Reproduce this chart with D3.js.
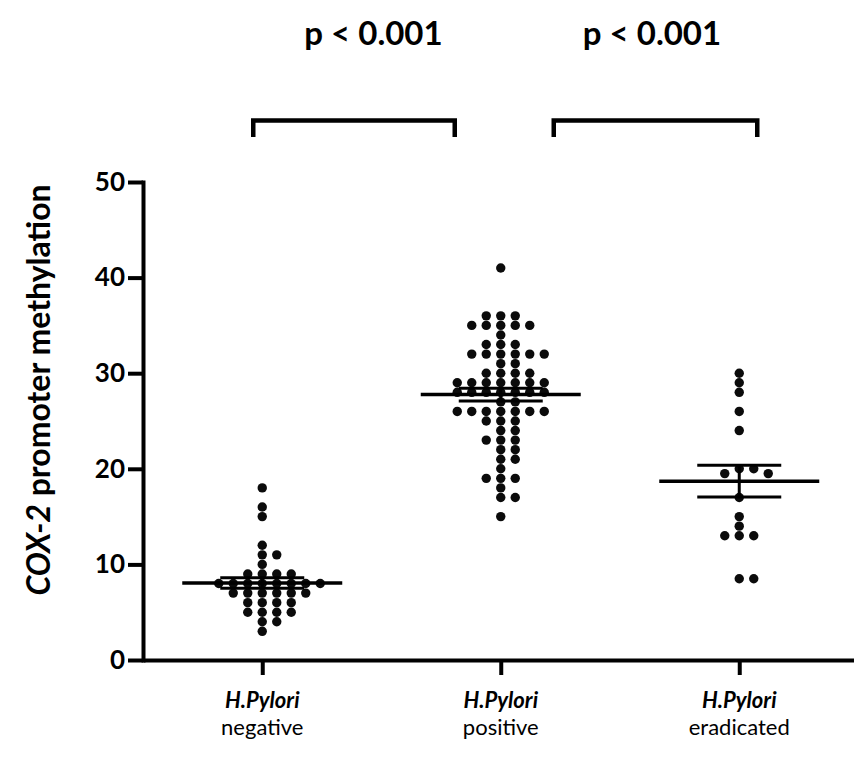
<!DOCTYPE html>
<html><head><meta charset="utf-8">
<script src="https://cdn.jsdelivr.net/npm/d3@7"></script>
<style>body{margin:0;background:#fff} svg{display:block}</style>
</head><body><svg id="chart" width="854" height="760"></svg>
<script>
// ---------------- data ----------------
const categories = ["negative", "positive", "eradicated"];
const categoryPrefix = "H.Pylori";
const yTicks = [0, 10, 20, 30, 40, 50];
const negativeValues = [18, 16, 15, 12, 11, 11, 10, 9, 9, 9, 9, 8, 8, 8, 8, 8, 8, 8, 8,
  7, 7, 7, 7, 7, 7, 6, 6, 6, 6, 5, 5, 5, 5, 4, 4, 3];
const positiveValues = [41, 36, 36, 36, 35, 35, 35, 35, 35, 34, 33, 33, 33,
  32, 32, 32, 32, 32, 32, 31, 31, 30, 30, 30, 30, 29, 29, 29, 29, 29, 29, 29,
  28, 28, 28, 28, 28, 28, 28, 27, 27, 26, 26, 26, 26, 26, 26, 26, 25, 25, 25,
  24, 24, 23, 23, 23, 22, 22, 21, 21, 20, 19, 19, 19, 18, 17, 17, 15];
const eradicatedValues = [30, 29, 28, 26, 24, 20, 20, 19.5, 19.5, 17, 15, 14, 13, 13, 13, 8.5, 8.5];
const comparisons = [["negative", "positive"], ["positive", "eradicated"]];
const pLabels = ["p < 0.001", "p < 0.001"];
const yTitleItalic = "COX-2";
const yTitleRest = " promoter methylation";

// ---------------- chart ----------------
const FONT = "Lato, 'Open Sans', 'DejaVu Sans', sans-serif";
const svg = d3.select("#chart");
const y = d3.scaleLinear().domain([0, 50]).range([660, 182]);
const x = d3.scalePoint().domain(categories).range([143, 858.5]).padding(0.5);

const groupValues = {negative: negativeValues, positive: positiveValues, eradicated: eradicatedValues};

function layout(values, cat) {
  const sorted = values.slice().sort((a, b) => b - a);
  const placed = [];
  const step = 14.5, diam = 9.2;
  const prefs = [0, 1, -1, 2, -2, 3, -3, 4, -4, 5, -5, 6, -6, 7, -7];
  sorted.forEach(v => {
    const py = y(v);
    for (const c of prefs) {
      if (!placed.some(q => q.c === c && Math.abs(q.py - py) < diam)) {
        placed.push({v, c, py});
        break;
      }
    }
  });
  return placed.map(p => ({v: p.v, cx: x(cat) + p.c * step, cy: p.py}));
}

// dots
categories.forEach(cat => {
  svg.append("g").selectAll("circle").data(layout(groupValues[cat], cat)).join("circle")
    .attr("cx", d => d.cx).attr("cy", d => d.cy).attr("r", 4.7).attr("fill", "#0b0b0b");
});

// mean +- SEM
categories.forEach(cat => {
  const vals = groupValues[cat];
  const m = d3.mean(vals);
  const sem = d3.deviation(vals) / Math.sqrt(vals.length);
  const cx = x(cat);
  const g = svg.append("g").attr("stroke", "#000").attr("fill", "none");
  g.append("line").attr("x1", cx - 80).attr("x2", cx + 80).attr("y1", y(m)).attr("y2", y(m)).attr("stroke-width", 3.5);
  [m - sem, m + sem].forEach(v => {
    g.append("line").attr("x1", cx - 42).attr("x2", cx + 42).attr("y1", y(v)).attr("y2", y(v)).attr("stroke-width", 3);
  });
  g.append("line").attr("x1", cx).attr("x2", cx).attr("y1", y(m - sem)).attr("y2", y(m + sem)).attr("stroke-width", 3);
});

// axes
const yAxis = svg.append("g").attr("transform", "translate(143,0)")
  .call(d3.axisLeft(y).tickValues(yTicks).tickSize(15).tickSizeOuter(0).tickPadding(3));
yAxis.select(".domain").attr("stroke", "#000").attr("stroke-width", 4).attr("stroke-linecap", "square");
yAxis.selectAll(".tick line").attr("stroke", "#000").attr("stroke-width", 4);
yAxis.selectAll(".tick text").attr("font-family", FONT).attr("font-weight", 700)
  .attr("font-size", 26).attr("fill", "#000");

const xAxis = svg.append("g").attr("transform", "translate(0,660)")
  .call(d3.axisBottom(x).tickSize(15).tickSizeOuter(0).tickFormat(""));
xAxis.select(".domain").attr("stroke", "#000").attr("stroke-width", 4);
xAxis.selectAll(".tick line").attr("stroke", "#000").attr("stroke-width", 4);

// category labels
categories.forEach(cat => {
  svg.append("text").attr("x", x(cat)).attr("y", 708).attr("text-anchor", "middle")
    .attr("font-family", FONT).attr("font-size", 22).attr("font-weight", 700).attr("font-style", "italic")
    .text(categoryPrefix);
  svg.append("text").attr("x", x(cat)).attr("y", 735).attr("text-anchor", "middle")
    .attr("font-family", FONT).attr("font-size", 22).attr("font-weight", 400)
    .text(cat);
});

// y title
const yt = svg.append("text").attr("transform", "translate(50,390) rotate(-90)")
  .attr("text-anchor", "middle").attr("font-family", FONT).attr("font-weight", 700).attr("font-size", 32);
yt.append("tspan").attr("font-style", "italic").text(yTitleItalic);
yt.append("tspan").text(yTitleRest);

// significance brackets
const bracketOffsets = [[-9, -46], [53, 18]];
const labelShift = [-8, 32];
comparisons.forEach((pair, i) => {
  const x1 = x(pair[0]) + bracketOffsets[i][0];
  const x2 = x(pair[1]) + bracketOffsets[i][1];
  svg.append("path")
    .attr("d", `M${x1},137V120.5H${x2}V137`)
    .attr("fill", "none").attr("stroke", "#000").attr("stroke-width", 4.5);
  svg.append("text").attr("x", (x(pair[0]) + x(pair[1])) / 2 + labelShift[i]).attr("y", 45)
    .attr("text-anchor", "middle").attr("font-family", FONT).attr("font-weight", 700).attr("font-size", 33)
    .text(pLabels[i]);
});
</script></body></html>
